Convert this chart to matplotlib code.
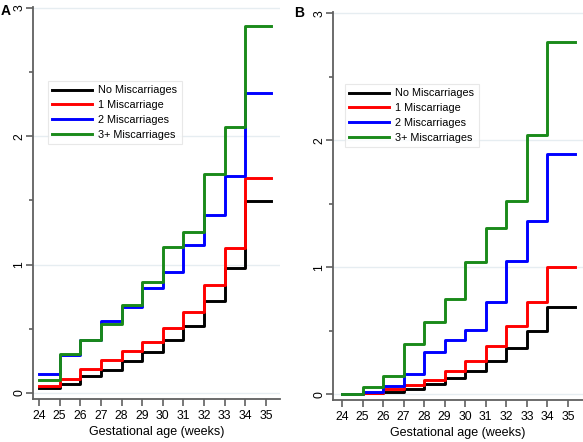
import numpy as np
import matplotlib
matplotlib.use('Agg')
import matplotlib.pyplot as plt
from matplotlib.ticker import MultipleLocator

plt.rcParams['font.family'] = ['Liberation Sans', 'DejaVu Sans']

weeks = list(range(24, 35))
labels = ['No Miscarriages', '1 Miscarriage', '2 Miscarriages', '3+ Miscarriages']
colors = ['black', '#ff0000', '#0000ff', '#1a8a1a']

# panel A
a_none = [0.04, 0.07, 0.13, 0.177, 0.247, 0.317, 0.41, 0.52, 0.714, 0.974, 1.494]
a_one = [0.057, 0.11, 0.187, 0.255, 0.325, 0.395, 0.506, 0.628, 0.844, 1.13, 1.675]
a_two = [0.145, 0.293, 0.415, 0.558, 0.67, 0.818, 0.94, 1.156, 1.384, 1.694, 2.338]
a_three = [0.099, 0.30, 0.415, 0.54, 0.686, 0.862, 1.135, 1.255, 1.709, 2.07, 2.857]
a_end = 35.25

# panel B
b_none = [0.0, 0.01, 0.02, 0.04, 0.08, 0.126, 0.184, 0.262, 0.362, 0.499, 0.69]
b_one = [0.005, 0.01, 0.04, 0.073, 0.113, 0.184, 0.262, 0.383, 0.538, 0.724, 1.005]
b_two = [0.0, 0.02, 0.068, 0.157, 0.33, 0.428, 0.506, 0.73, 1.05, 1.365, 1.89]
b_three = [0.0, 0.06, 0.147, 0.394, 0.567, 0.748, 1.045, 1.312, 1.525, 2.042, 2.77]
b_end = 35.35

W, H = 583, 442
fig = plt.figure(figsize=(W / 100, H / 100), dpi=100)


def px_axes(l, t, r, b):
    return fig.add_axes([l / W, 1 - b / H, (r - l) / W, (b - t) / H])


def draw_panel(ax, series, end, xlim, ylim, leg_xy):
    x = weeks + [end]
    for vals, lab, c in zip(series, labels, colors):
        ax.step(x, vals + [vals[-1]], where='post', color=c, lw=2.1, label=lab)
    ax.set_xlim(*xlim)
    ax.set_ylim(*ylim)
    ax.set_xticks(range(24, 36))
    ax.set_yticks([0, 1, 2, 3])
    ax.yaxis.set_minor_locator(MultipleLocator(0.5))
    ax.grid(axis='y', color='#e6edf1', lw=1)
    ax.set_axisbelow(True)
    for s in ['top', 'right']:
        ax.spines[s].set_visible(False)
    for s in ['left', 'bottom']:
        ax.spines[s].set_color('#606060')
        ax.spines[s].set_linewidth(1.3)
    ax.tick_params(which='both', color='#606060', width=1.2)
    ax.tick_params(axis='x', length=5, labelsize=8.8, pad=3)
    ax.tick_params(axis='y', which='major', length=5, labelsize=8.8, pad=0.5)
    ax.tick_params(axis='y', which='minor', length=3)
    for t in ax.get_yticklabels():
        t.set_rotation(90)
        t.set_va('center')
    ax.set_xlabel('Gestational age (weeks)', fontsize=9, labelpad=3)
    leg = ax.legend(loc='upper left',
                    bbox_to_anchor=(leg_xy[0] / W, 1 - leg_xy[1] / H),
                    bbox_transform=fig.transFigure, borderaxespad=0,
                    fontsize=7.8, fancybox=False, handlelength=3.7,
                    labelspacing=0.45, handletextpad=0.55, borderpad=0.4)
    leg.get_frame().set_edgecolor('#e3e3e3')
    leg.get_frame().set_linewidth(0.8)


ax_a = px_axes(33, 7, 280, 399)
draw_panel(ax_a, [a_none, a_one, a_two, a_three], a_end,
           (23.709, 35.68), (-0.047, 3.008), (48, 81))

ax_b = px_axes(333, 12, 583, 400)
draw_panel(ax_b, [b_none, b_one, b_two, b_three], b_end,
           (23.562, 35.73), (-0.045, 3.01), (345, 84))

fig.text(1 / W, 1 - 11 / H, 'A', fontsize=10, fontweight='bold', va='center', ha='left')
fig.text(294 / W, 1 - 13 / H, 'B', fontsize=10, fontweight='bold', va='center', ha='left')

fig.savefig('out.png', dpi=100)
